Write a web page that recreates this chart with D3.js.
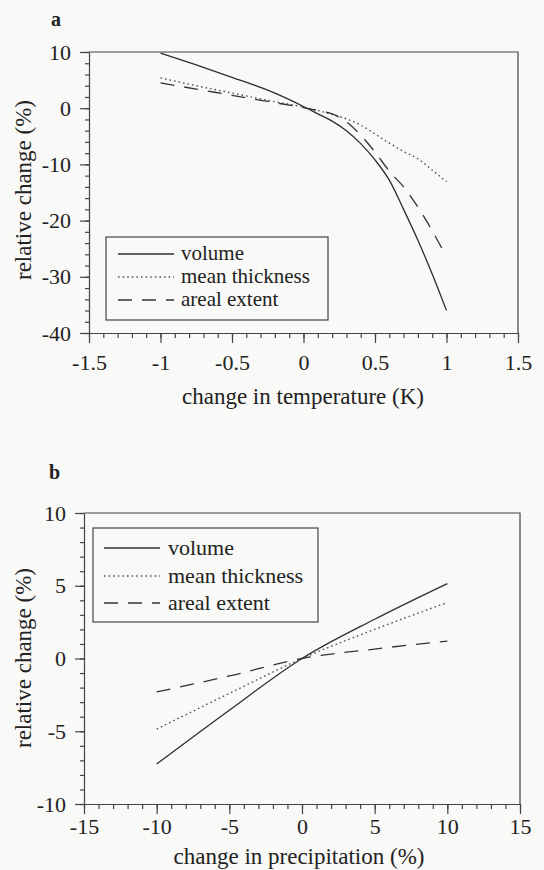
<!DOCTYPE html>
<html>
<head>
<meta charset="utf-8">
<script src="https://cdn.jsdelivr.net/npm/d3@7/dist/d3.min.js"></script>
<style>
  html, body { margin: 0; padding: 0; background: #f9f9f7; }
  svg { display: block; }
  .axis path, .axis line { stroke: #444; stroke-width: 1.2; }
</style>
</head>
<body>
<div id="chart"></div>
<script>
// panel a: change in temperature (K)
const tempX = [-1, -0.75, -0.5, -0.25, 0, 0.1, 0.2, 0.3, 0.4, 0.5, 0.6, 0.7, 0.8, 0.9, 1];
const tempVolume = [9.8, 7.7, 5.5, 3.2, 0.3, -1.0, -2.3, -4.0, -6.3, -9.2, -12.8, -18.0, -23.5, -29.5, -36.0];
const tempThickness = [5.4, 4.0, 2.7, 1.4, 0.2, -0.4, -1.1, -1.9, -3.0, -4.6, -6.2, -7.7, -9.0, -11.0, -13.1];
const tempExtent = [4.5, 3.4, 2.3, 1.2, 0.1, -0.4, -1.0, -2.4, -4.8, -7.8, -11.2, -14.0, -17.6, -21.8, -26.5];
const tempTicksX = [-1.5, -1, -0.5, 0, 0.5, 1, 1.5];
const tempTicksY = [-40, -30, -20, -10, 0, 10];

// panel b: change in precipitation (%)
const precX = [-10, -5, 0, 5, 10];
const precVolume = [-7.25, -3.55, 0, 2.7, 5.15];
const precThickness = [-4.85, -2.4, 0, 2.0, 3.85];
const precExtent = [-2.3, -1.2, 0, 0.65, 1.2];
const precTicksX = [-15, -10, -5, 0, 5, 10, 15];
const precTicksY = [-10, -5, 0, 5, 10];

const seriesNames = ['volume', 'mean thickness', 'areal extent'];

const FONT = "'Liberation Serif', 'Times New Roman', Times, serif";
const INK = '#222';

const W = 544, H = 870;
const svg = d3.select('#chart').append('svg').attr('width', W).attr('height', H);

const styles = [
  { stroke: '#2e2e2e', dash: null, width: 1.3 },
  { stroke: '#555', dash: '1.6,3', width: 1.4 },
  { stroke: '#333', dash: '14,10', width: 1.3 },
];

const fmt = (d) => String(d);

function styleTicks(s) {
  s.attr('font-family', FONT).attr('font-size', 22);
  s.selectAll('text').attr('fill', INK);
}

function drawPanel(p) {
  const x = d3.scaleLinear().domain(p.xDomain).range(p.xRange);
  const y = d3.scaleLinear().domain(p.yDomain).range(p.yRange);
  const g = svg.append('g');

  // minor ticks
  g.append('g')
    .attr('class', 'axis')
    .attr('transform', `translate(0,${p.yRange[0]})`)
    .call(d3.axisBottom(x).tickValues(d3.range(p.xDomain[0], p.xDomain[1] + p.xMinor / 2, p.xMinor)).tickSize(5).tickFormat(''))
    .call((s) => s.select('.domain').remove());
  g.append('g')
    .attr('class', 'axis')
    .attr('transform', `translate(${p.xRange[0]},0)`)
    .call(d3.axisLeft(y).tickValues(d3.range(p.yDomain[0], p.yDomain[1] + p.yMinor / 2, p.yMinor)).tickSize(4).tickFormat(''))
    .call((s) => s.select('.domain').remove());

  // major ticks and labels
  g.append('g')
    .attr('class', 'axis')
    .attr('transform', `translate(0,${p.yRange[0]})`)
    .call(d3.axisBottom(x).tickValues(p.xTicks).tickSize(10).tickSizeOuter(0).tickPadding(p.xPad).tickFormat(fmt))
    .call(styleTicks);
  g.append('g')
    .attr('class', 'axis')
    .attr('transform', `translate(${p.xRange[0]},0)`)
    .call(d3.axisLeft(y).tickValues(p.yTicks).tickSize(9).tickSizeOuter(0).tickPadding(9).tickFormat(fmt))
    .call(styleTicks);

  // frame top and right
  g.append('path')
    .attr('d', `M${p.xRange[0]},${p.yRange[1]}H${p.xRange[1]}V${p.yRange[0]}`)
    .attr('fill', 'none')
    .attr('stroke', '#444')
    .attr('stroke-width', 1.2);

  // curves
  const line = d3.line()
    .x((d) => x(d[0]))
    .y((d) => y(d[1]))
    .curve(d3.curveMonotoneX);

  p.series.forEach((vals, i) => {
    g.append('path')
      .datum(p.xs.map((v, j) => [v, vals[j]]))
      .attr('fill', 'none')
      .attr('stroke', styles[i].stroke)
      .attr('stroke-width', styles[i].width)
      .attr('stroke-dasharray', styles[i].dash)
      .attr('d', line);
  });

  // legend
  const L = p.legend;
  g.append('rect')
    .attr('x', L.x0).attr('y', L.y0)
    .attr('width', L.x1 - L.x0).attr('height', L.y1 - L.y0)
    .attr('fill', 'none').attr('stroke', '#444').attr('stroke-width', 1.2);
  seriesNames.forEach((name, i) => {
    const cy = L.rows[i];
    g.append('line')
      .attr('x1', L.lx0).attr('x2', L.lx1)
      .attr('y1', cy).attr('y2', cy)
      .attr('stroke', styles[i].stroke)
      .attr('stroke-width', styles[i].width)
      .attr('stroke-dasharray', styles[i].dash);
    g.append('text')
      .attr('x', L.tx).attr('y', cy).attr('dy', '0.3em')
      .attr('font-family', FONT).attr('font-size', L.size).attr('fill', INK)
      .text(name);
  });

  // titles
  g.append('text')
    .attr('x', p.xTitle[0]).attr('y', p.xTitle[1])
    .attr('text-anchor', 'middle')
    .attr('font-family', FONT).attr('font-size', 23).attr('fill', INK)
    .text(p.xLabel);
  g.append('text')
    .attr('transform', `translate(${p.yTitle[0]},${p.yTitle[1]}) rotate(-90)`)
    .attr('text-anchor', 'middle')
    .attr('font-family', FONT).attr('font-size', 23).attr('fill', INK)
    .text('relative change (%)');
  g.append('text')
    .attr('x', p.tag[0]).attr('y', p.tag[1])
    .attr('font-family', FONT).attr('font-size', 20).attr('font-weight', 'bold').attr('fill', INK)
    .text(p.tagText);
}

drawPanel({
  xs: tempX,
  series: [tempVolume, tempThickness, tempExtent],
  xDomain: [-1.5, 1.5], xRange: [89, 518],
  yDomain: [-40, 10], yRange: [333, 52],
  xTicks: tempTicksX, yTicks: tempTicksY,
  xMinor: 0.1, yMinor: 2, xPad: 11,
  legend: { x0: 106, x1: 328, y0: 237, y1: 320, rows: [254, 277, 300], size: 21, lx0: 118, lx1: 174, tx: 181 },
  xLabel: 'change in temperature (K)', xTitle: [303, 404],
  yTitle: [31, 190],
  tag: [51, 26], tagText: 'a',
});

drawPanel({
  xs: precX,
  series: [precVolume, precThickness, precExtent],
  xDomain: [-15, 15], xRange: [84, 520],
  yDomain: [-10, 10], yRange: [804, 513],
  xTicks: precTicksX, yTicks: precTicksY,
  xMinor: 1, yMinor: 1, xPad: 4,
  legend: { x0: 93, x1: 318, y0: 528, y1: 622, rows: [548, 576, 603], size: 22, lx0: 104, lx1: 160, tx: 168 },
  xLabel: 'change in precipitation (%)', xTitle: [299, 864],
  yTitle: [31, 658],
  tag: [49, 479], tagText: 'b',
});
</script>
</body>
</html>
